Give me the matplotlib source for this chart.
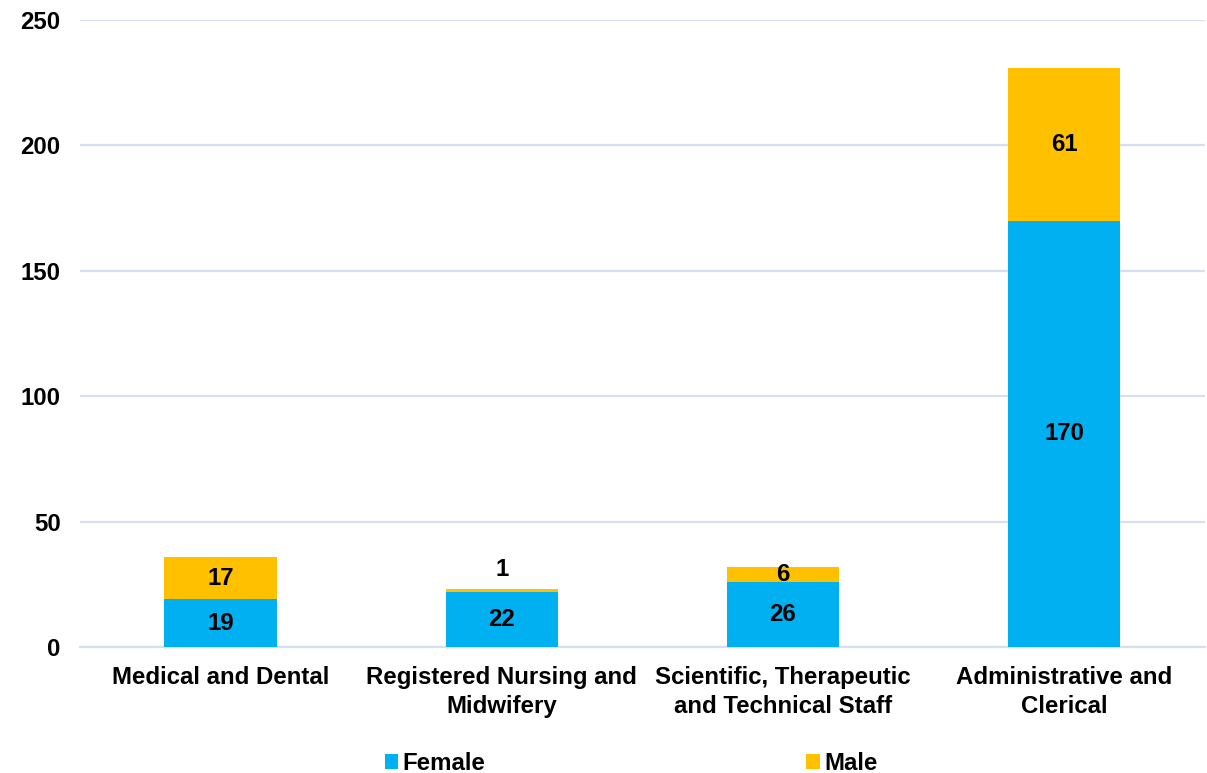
import matplotlib.pyplot as plt
import numpy as np

categories = ["Medical and Dental", "Registered Nursing and\nMidwifery",
              "Scientific, Therapeutic\nand Technical Staff", "Administrative and\nClerical"]
female = [19, 22, 26, 170]
male = [17, 1, 6, 61]
yticks = [0, 50, 100, 150, 200, 250]

plt.rcParams['font.family'] = ['Liberation Sans', 'DejaVu Sans']
plt.rcParams['font.weight'] = 'bold'

fig = plt.figure(figsize=(12.07, 7.73), dpi=100)
ax = fig.add_axes([0.0663, 0.163, 0.9317, 0.811])

x = np.arange(len(categories))
w = 0.40
c_f = '#00B0F0'
c_m = '#FFC000'
grid_c = '#D6DFF0'

bf = ax.bar(x, female, w, color=c_f, label='Female', zorder=3)
bm = ax.bar(x, male, w, bottom=female, color=c_m, label='Male', zorder=3)

fs = 17.3
for xi, f, m in zip(x, female, male):
    ax.text(xi, f / 2, str(f), ha='center', va='center', fontsize=fs, fontweight='bold', zorder=4)
    if m < 3:
        ax.text(xi, f + m + 8, str(m), ha='center', va='center', fontsize=fs, fontweight='bold', zorder=4)
    else:
        ax.text(xi, f + m / 2, str(m), ha='center', va='center', fontsize=fs, fontweight='bold', zorder=4)

ax.set_xlim(-0.5, len(categories) - 0.5)
ax.set_ylim(0, 250)
ax.set_yticks(yticks)
ax.set_yticklabels([str(t) for t in yticks], fontsize=fs, fontweight='bold')
ax.set_xticks(x)
ax.set_xticklabels(categories, fontsize=fs, fontweight='bold', linespacing=1.3)
ax.tick_params(axis='both', length=0)
ax.tick_params(axis='y', pad=14)
ax.tick_params(axis='x', pad=14)

ax.yaxis.grid(True, color=grid_c, linewidth=1.6, zorder=0)
for s in ['top', 'right', 'left']:
    ax.spines[s].set_visible(False)
ax.spines['bottom'].set_color(grid_c)
ax.spines['bottom'].set_linewidth(1.6)
ax.spines['bottom'].set_zorder(2)

leg = fig.legend(handles=[bf, bm], loc='center', bbox_to_anchor=(0.523, 0.012),
                 ncol=2, frameon=False, handlelength=0.55, handleheight=0.55,
                 handletextpad=0.2, columnspacing=13.35,
                 prop={'weight': 'bold', 'size': fs})

fig.savefig('out.png', dpi=100)
